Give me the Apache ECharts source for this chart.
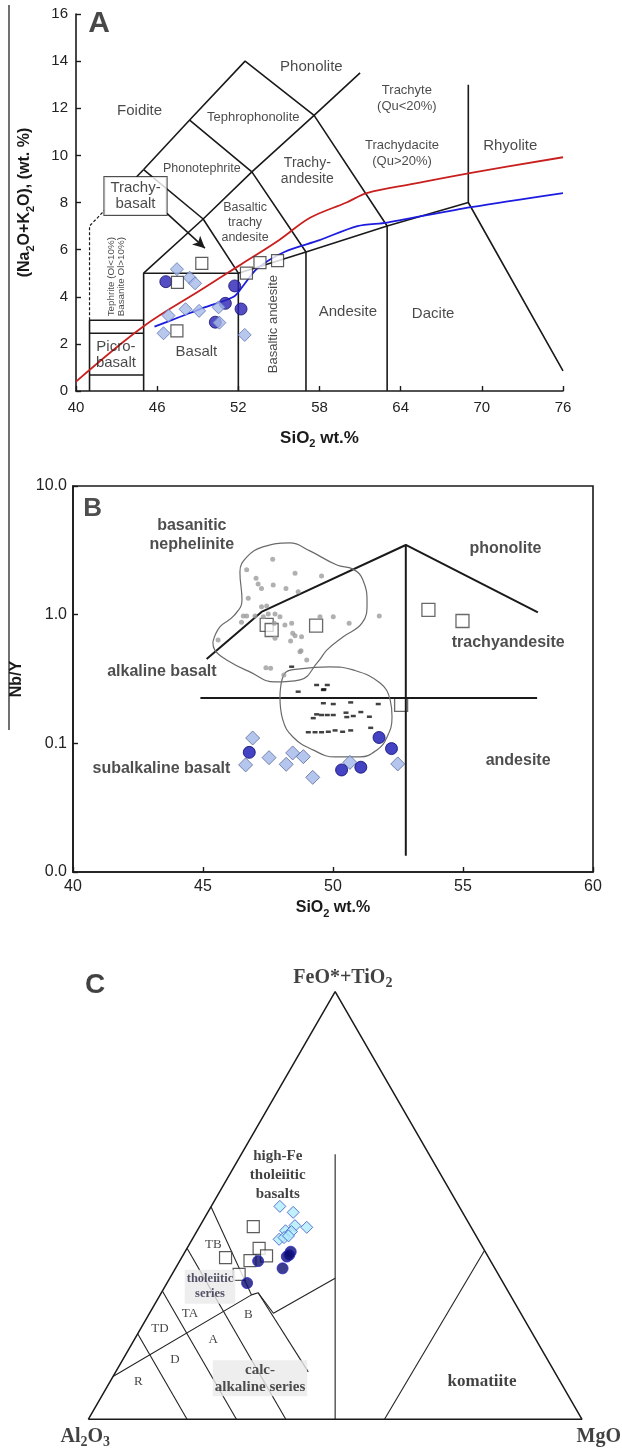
<!DOCTYPE html>
<html>
<head>
<meta charset="utf-8">
<script src="https://cdn.jsdelivr.net/npm/echarts@6/dist/echarts.min.js"></script>
<style>
  html, body { margin: 0; padding: 0; background: #fff; }
  #main { width: 622px; height: 1453px; }
</style>
</head>
<body>
<div id="main"></div>
<script>
// ---------- panel A : TAS diagram (SiO2 vs Na2O+K2O) ----------
const tasCircles = [[46.64, 4.64], [51.73, 4.46], [51.04, 3.72], [52.2, 3.48], [50.3, 2.92]];
const tasDiamonds = [[47.46, 5.17], [48.4, 4.81], [48.8, 4.57], [46.84, 3.2], [48.1, 3.47], [49.1, 3.4],
  [50.54, 3.55], [50.6, 2.9], [46.47, 2.45], [52.47, 2.38]];
const tasSquares = [[49.3, 5.42], [47.5, 4.61], [47.46, 2.55], [52.6, 5.0], [53.6, 5.45], [54.9, 5.53]];
const tasRed = [[40, 0.4], [45, 2.75], [49.4, 4.35], [52, 5.3], [55, 6.4], [57.3, 7.35], [60, 8.0],
  [61.5, 8.4], [65, 8.8], [69, 9.24], [76, 9.92]];
const tasBlue = [[45.8, 2.73], [47.7, 3.15], [49.5, 3.55], [51.65, 4.0], [52.4, 4.5], [53.4, 5.2],
  [55.4, 5.9], [58, 6.4], [60.8, 7.0], [63, 7.15], [69.2, 7.8], [76, 8.4]];
const tasBounds = [
  [[41, 0], [41, 3], [45, 3]],
  [[41, 2.45], [45, 2.45]],
  [[41, 0.68], [45, 0.68]],
  [[45, 0], [45, 5], [52, 5], [52, 0]],
  [[52, 5], [57, 5.9], [57, 0]],
  [[57, 5.9], [63, 7], [63, 0]],
  [[63, 7], [69, 8], [76, 0.85]],
  [[69, 8], [69, 13]],
  [[45, 5], [49.4, 7.3], [52, 5]],
  [[49.4, 7.3], [53, 9.3], [57, 5.9]],
  [[53, 9.3], [57.6, 11.7], [63, 7]],
  [[45, 9.4], [49.4, 7.3]],
  [[45, 9.4], [48.4, 11.5], [53, 9.3]],
  [[48.4, 11.5], [52.5, 14], [57.6, 11.7], [61, 13.5]],
  [[44.47, 9.08], [45, 9.4]]
];
const tasDashed = [[41, 3], [41, 7], [42.1, 7.66]];
const tasArrow = [[46.72, 7.54], [49.53, 6.06]];
const tasXTicks = [40, 76, 6];
const tasYTicks = [0, 16, 2];
const tasLabels = [
  [41.7, 15.58, 'A'],
  [44.7, 11.9, 'Foidite'],
  [53.1, 11.6, 'Tephrophonolite'],
  [57.4, 13.77, 'Phonolite'],
  [49.3, 9.42, 'Phonotephrite'],
  [57.1, 9.34, 'Trachy-\nandesite'],
  [64.46, 12.42, 'Trachyte\n(Qu<20%)'],
  [64.1, 10.1, 'Trachydacite\n(Qu>20%)'],
  [72.1, 10.4, 'Rhyolite'],
  [44.4, 8.28, 'Trachy-\nbasalt'],
  [52.5, 7.17, 'Basaltic\ntrachy\nandesite'],
  [42.95, 4.85, 'Tephrite (Ol<10%)\nBasanite Ol>10%)'],
  [42.95, 1.55, 'Picro-\nbasalt'],
  [48.9, 1.66, 'Basalt'],
  [54.6, 2.84, 'Basaltic andesite'],
  [60.1, 3.36, 'Andesite'],
  [66.4, 3.27, 'Dacite']
];

// ---------- panel B : SiO2 vs Nb/Y ----------
const nbCircles = [[46.78, 0.0851], [50.33, 0.0621], [51.07, 0.0652], [51.77, 0.111], [52.25, 0.091]];
const nbDiamonds = [[46.91, 0.110], [46.64, 0.068], [47.54, 0.0774], [48.2, 0.0687], [48.45, 0.0842],
  [48.86, 0.0788], [49.22, 0.0544], [50.65, 0.0711], [52.49, 0.0692]];
const nbSquares = [[47.45, 0.832], [47.64, 0.760], [49.35, 0.821], [53.67, 1.09], [54.98, 0.893], [52.62, 0.199]];
const nbGrey = [[47.68, 2.70], [46.68, 2.23], [47.04, 1.92], [47.12, 1.73], [47.25, 1.60], [47.70, 1.70],
  [48.19, 1.60], [48.54, 2.10], [48.66, 1.51], [46.74, 1.34], [47.25, 1.15], [47.45, 1.17], [47.00, 0.977],
  [46.68, 0.977], [46.55, 0.977], [47.32, 0.965], [47.51, 1.01], [47.77, 1.01], [47.96, 0.965], [47.74, 0.857],
  [48.15, 0.832], [48.41, 0.857], [46.48, 0.873], [48.45, 0.717], [48.54, 0.687], [47.77, 0.656], [48.37, 0.625],
  [48.77, 0.525], [45.58, 0.635], [48.99, 0.445], [47.42, 0.387], [47.60, 0.383], [48.11, 0.340], [49.56, 2.00],
  [49.50, 0.965], [50.01, 0.965], [50.62, 0.857], [51.78, 0.977], [48.79, 0.675], [48.73, 0.516]];
const nbBlack = [[48.66, 0.252], [49.37, 0.284], [49.65, 0.263], [49.63, 0.205], [50.01, 0.202], [49.37, 0.168],
  [49.56, 0.166], [49.78, 0.166], [50.01, 0.166], [49.24, 0.157], [49.05, 0.122], [49.31, 0.122], [49.56, 0.122],
  [49.82, 0.123], [50.08, 0.126], [48.41, 0.394], [49.78, 0.284], [49.63, 0.260], [50.68, 0.208], [51.74, 0.202],
  [50.50, 0.173], [50.53, 0.160], [50.78, 0.163], [51.07, 0.175], [51.40, 0.161], [50.37, 0.123], [50.68, 0.126],
  [51.45, 0.132]];
const nbUpperField = [[45.38, 0.614], [45.65, 0.802], [46.18, 0.977], [46.50, 1.30], [46.42, 2.15], [46.69, 2.81],
  [47.30, 3.36], [48.34, 3.61], [49.11, 3.13], [50.15, 2.43], [50.77, 2.26], [51.15, 1.86], [51.31, 1.23],
  [51.12, 0.862], [50.38, 0.671], [49.77, 0.532], [49.42, 0.429], [48.73, 0.311], [47.77, 0.300], [46.80, 0.359],
  [45.91, 0.445], [45.45, 0.532], [45.38, 0.614]];
const nbLowerField = [[47.96, 0.229], [48.15, 0.352], [48.73, 0.379], [49.88, 0.393], [50.77, 0.372], [51.81, 0.294],
  [52.20, 0.217], [52.27, 0.160], [52.08, 0.112], [51.69, 0.0889], [51.04, 0.0784], [50.08, 0.0784], [49.23, 0.0889],
  [48.46, 0.112], [48.07, 0.152], [47.96, 0.229]];
const nbBounds = [
  [[45.14, 0.453], [47.25, 1.05], [52.8, 3.48], [57.88, 1.04]],
  [[52.8, 3.48], [52.8, 0.0134]],
  [[44.9, 0.225], [57.85, 0.225]]
];
const nbXTicks = [40, 60, 5];
const nbYRange = [0.01, 10];
const nbLabels = [
  [40.76, 6.62, 'B'],
  [44.57, 4.16, 'basanitic\nnephelinite'],
  [43.42, 0.359, 'alkaline basalt'],
  [56.63, 3.24, 'phonolite'],
  [56.74, 0.603, 'trachyandesite'],
  [43.40, 0.0633, 'subalkaline basalt'],
  [57.12, 0.0734, 'andesite']
];

// ---------- panel C : Jensen cation ternary [Al2O3, FeO*+TiO2, MgO] ----------
const jCircles = [[39.4, 39.2, 21.4], [40.8, 38.1, 21.2], [40.1, 38.5, 21.5], [47.1, 37.0, 15.9],
  [43.0, 35.3, 21.7], [51.8, 31.8, 16.2]];
const jDiamonds = [[36.3, 49.8, 13.9], [34.3, 48.4, 17.3], [35.5, 45.3, 19.2], [33.3, 44.9, 21.8],
  [38.0, 44.1, 17.9], [36.9, 43.9, 19.2], [40.3, 42.1, 17.6], [39.1, 42.5, 18.4], [38.0, 42.9, 19.1]];
const jSquares = [[44.1, 45.1, 10.9], [45.4, 40.0, 14.6], [44.8, 38.2, 17.0], [48.7, 37.1, 14.2],
  [53.3, 37.8, 8.9], [52.5, 33.9, 13.6]];
const jFrame = [[100, 0, 0], [0, 100, 0], [0, 0, 100], [100, 0, 0]];
const jBounds = [
  [[50, 0, 50], [19, 62, 19]],
  [[40, 0, 60], [0, 39.5, 60.5]],
  [[50.3, 49.7, 0], [52.4, 29.1, 18.5]],
  [[90, 10, 0], [52.4, 29.1, 18.5], [50.8, 29.6, 19.6], [50.1, 24.8, 25.1], [33.5, 33, 33.5]],
  [[50.8, 29.6, 19.6], [49.9, 11.1, 39.0]],
  [[60, 40, 0], [60, 0, 40]],
  [[70, 30, 0], [70, 0, 30]],
  [[80, 20, 0], [80, 0, 20]]
];
// label anchors in the triangle's own x/y frame (base = 0..1)
const jLabels = [
  [0.0136, 0.880, 'C'],
  [0.5156, 0.894, 'FeO*+TiO{s|2}'],
  [-0.006, -0.036, 'Al{s|2}O{s|3}'],
  [1.034, -0.036, 'MgO'],
  [0.3838, 0.4949, 'high-Fe\ntholeiitic\nbasalts'],
  [0.2532, 0.353, 'TB'],
  [0.2465, 0.2686, 'tholeiitic\nseries'],
  [0.206, 0.2147, 'TA'],
  [0.1452, 0.1843, 'TD'],
  [0.3241, 0.2113, 'B'],
  [0.2532, 0.1606, 'A'],
  [0.1756, 0.1201, 'D'],
  [0.1013, 0.0762, 'R'],
  [0.3478, 0.083, 'calc-\nalkaline series'],
  [0.7975, 0.0762, 'komatiite']
];

const INK = '#1a1a1a';
const SANS = '"Liberation Sans", Arial, sans-serif';
const SERIF = '"Liberation Serif", "Times New Roman", serif';
const H = Math.sqrt(3) / 2;

function tern(p) {
  const s = p[0] + p[1] + p[2];
  const f = p[1] / s, m = p[2] / s;
  return [m + f / 2, f * H];
}

function lineSeries(gi, pts, style, extra) {
  return Object.assign({
    type: 'line', xAxisIndex: gi, yAxisIndex: gi, data: pts, symbol: 'none', showSymbol: false,
    silent: true, animation: false, z: 2, lineStyle: style
  }, extra || {});
}

function pointSeries(gi, pts, symbol, size, itemStyle, z) {
  return {
    type: 'scatter', xAxisIndex: gi, yAxisIndex: gi, data: pts, symbol: symbol, symbolSize: size,
    itemStyle: itemStyle, silent: true, animation: false, z: z || 4
  };
}

function labelSeries(gi, list, base, styles) {
  return {
    type: 'scatter', xAxisIndex: gi, yAxisIndex: gi, symbolSize: 0, silent: true, animation: false,
    clip: false, z: 6,
    data: list.map(l => ({
      value: [l[0], l[1]],
      label: Object.assign({ show: true, position: 'inside', formatter: l[2] }, base, styles[l[2]] || {})
    }))
  };
}

const sub = { fontSize: 11, fontWeight: 'bold', verticalAlign: 'bottom', lineHeight: 12 };
const blackLine = { color: INK, width: 1.6 };

const series = [];

// ---- A
tasBounds.forEach((b, i) => {
  const extra = i === 0 ? {
    markLine: {
      silent: true, animation: false, symbol: ['none', 'arrow'], symbolSize: [9, 12],
      lineStyle: { color: INK, width: 1.6, type: 'solid' }, label: { show: false },
      data: [[{ coord: tasArrow[0] }, { coord: tasArrow[1] }]]
    }
  } : {};
  series.push(lineSeries(0, b, blackLine, extra));
});
series.push(lineSeries(0, tasDashed, { color: INK, width: 1.2, type: [3, 2] }));
series.push(lineSeries(0, tasRed, { color: '#c8201e', width: 1.8 }, { smooth: 0.35 }));
series.push(lineSeries(0, tasBlue, { color: '#1c1ce0', width: 1.8 }, { smooth: 0.3 }));
series.push(pointSeries(0, tasCircles, 'circle', 12, { color: '#2a20b4', borderColor: '#12106e', borderWidth: 1 }));
series.push(pointSeries(0, tasDiamonds, 'diamond', 13, { color: '#a6bae9', borderColor: '#5f76b6', borderWidth: 1 }));
series.push(pointSeries(0, tasSquares, 'rect', 12, { color: '#fff', borderColor: '#333', borderWidth: 1.2 }));
series.push(labelSeries(0, tasLabels, { fontFamily: SANS, fontSize: 15, color: INK, lineHeight: 16 }, {
  'A': { fontSize: 30, fontWeight: 'bold' },
  'Tephrophonolite': { fontSize: 13 },
  'Phonotephrite': { fontSize: 12.5 },
  'Trachy-\nandesite': { fontSize: 14 },
  'Trachyte\n(Qu<20%)': { fontSize: 13 },
  'Trachydacite\n(Qu>20%)': { fontSize: 13 },
  'Basaltic\ntrachy\nandesite': { fontSize: 12.5, lineHeight: 15 },
  'Tephrite (Ol<10%)\nBasanite Ol>10%)': { fontSize: 9.8, lineHeight: 10, rotate: 90 },
  'Basaltic andesite': { fontSize: 13, rotate: 90 },
  'Trachy-\nbasalt': { backgroundColor: '#fff', borderColor: '#222', borderWidth: 1, padding: [3, 6], lineHeight: 16 }
}));

// ---- B
nbBounds.forEach(b => series.push(lineSeries(1, b, { color: INK, width: 2 })));
series.push(lineSeries(1, nbUpperField, { color: '#6a6a6a', width: 1.2 }, { smooth: 0.45 }));
series.push(lineSeries(1, nbLowerField, { color: '#6a6a6a', width: 1.2 }, { smooth: 0.45 }));
series.push(pointSeries(1, nbGrey, 'circle', 5, { color: '#9c9c9c' }, 3));
series.push(pointSeries(1, nbBlack, 'rect', [5, 2.5], { color: '#111' }, 3));
series.push(pointSeries(1, nbSquares, 'rect', 13, { color: 'rgba(255,255,255,0.9)', borderColor: '#444', borderWidth: 1.3 }, 1));
series.push(pointSeries(1, nbDiamonds, 'diamond', 14, { color: '#a3b8ea', borderColor: '#5a6a9a', borderWidth: 1 }));
series.push(pointSeries(1, nbCircles, 'circle', 12, { color: '#1414b4', borderColor: '#0a0a70', borderWidth: 1 }));
series.push(labelSeries(1, nbLabels, { fontFamily: SANS, fontSize: 16, fontWeight: 'bold', color: '#222', lineHeight: 19 }, {
  'B': { fontSize: 26, fontWeight: 'bold' }
}));

// ---- C
series.push(lineSeries(2, jFrame.map(tern), { color: INK, width: 1.5 }));
jBounds.forEach(b => series.push(lineSeries(2, b.map(tern), { color: '#222', width: 1.1 })));
series.push(pointSeries(2, jSquares.map(tern), 'rect', 12, { color: '#fff', borderColor: '#333', borderWidth: 1.2 }));
series.push(pointSeries(2, jDiamonds.map(tern), 'diamond', 12, { color: '#b2ecfc', borderColor: '#3656c4', borderWidth: 1 }));
series.push(pointSeries(2, jCircles.map(tern), 'circle', 11, { color: '#0c0c72', borderColor: '#2626c8', borderWidth: 1 }));
series.push(labelSeries(2, jLabels, { fontFamily: SERIF, fontSize: 13, color: '#111' }, {
  'C': { fontFamily: SANS, fontSize: 28, fontWeight: 'bold' },
  'FeO*+TiO{s|2}': { fontSize: 20, fontWeight: 'bold', lineHeight: 24, rich: { s: { fontSize: 14, fontWeight: 'bold', fontFamily: SERIF, verticalAlign: 'bottom', lineHeight: 14 } } },
  'Al{s|2}O{s|3}': { fontSize: 20, fontWeight: 'bold', lineHeight: 24, rich: { s: { fontSize: 14, fontWeight: 'bold', fontFamily: SERIF, verticalAlign: 'bottom', lineHeight: 14 } } },
  'MgO': { fontSize: 20, fontWeight: 'bold' },
  'high-Fe\ntholeiitic\nbasalts': { fontSize: 15, fontWeight: 'bold', lineHeight: 19 },
  'tholeiitic\nseries': { fontSize: 12.5, fontWeight: 'bold', lineHeight: 15, color: '#2a2a44', backgroundColor: '#eaeaea', padding: [2, 2] },
  'calc-\nalkaline series': { fontSize: 15, fontWeight: 'bold', lineHeight: 17, color: '#222', backgroundColor: '#eaeaea', padding: [1, 2] },
  'komatiite': { fontSize: 17, fontWeight: 'bold' }
}));

const axisBase = {
  axisLine: { show: true, lineStyle: { color: INK, width: 1.6 } },
  axisTick: { show: true, inside: true, length: 5, lineStyle: { color: INK, width: 1.4 } },
  splitLine: { show: false },
  nameLocation: 'middle'
};

const option = {
  backgroundColor: '#fff',
  animation: false,
  graphic: [{ type: 'line', shape: { x1: 9, y1: 5, x2: 9, y2: 730 }, style: { stroke: '#111', lineWidth: 1.2 }, silent: true }],
  grid: [
    { left: 76, top: 14, width: 487, height: 377 },
    { left: 73, top: 486, width: 520, height: 386, show: true, borderColor: INK, borderWidth: 1.6 },
    { left: 88.3, top: 1419.3 - 493.7 * H, width: 493.7, height: 493.7 * H }
  ],
  xAxis: [
    Object.assign({}, axisBase, {
      gridIndex: 0, type: 'value', min: tasXTicks[0], max: tasXTicks[1], interval: tasXTicks[2],
      axisLabel: { fontSize: 15, color: '#222', fontFamily: SANS, margin: 9 },
      name: 'SiO{s|2} wt.%', nameGap: 36,
      nameTextStyle: { fontFamily: SANS, fontSize: 17, fontWeight: 'bold', color: INK, lineHeight: 22, rich: { s: sub } }
    }),
    Object.assign({}, axisBase, {
      gridIndex: 1, type: 'value', min: nbXTicks[0], max: nbXTicks[1], interval: nbXTicks[2],
      axisLabel: { fontSize: 16, color: '#222', fontFamily: SANS, margin: 7 },
      name: 'SiO{s|2} wt.%', nameGap: 25,
      nameTextStyle: { fontFamily: SANS, fontSize: 16, fontWeight: 'bold', color: INK, lineHeight: 22, rich: { s: sub } }
    }),
    { gridIndex: 2, type: 'value', min: 0, max: 1, show: false }
  ],
  yAxis: [
    Object.assign({}, axisBase, {
      gridIndex: 0, type: 'value', min: tasYTicks[0], max: tasYTicks[1], interval: tasYTicks[2],
      axisLabel: { fontSize: 15, color: '#222', fontFamily: SANS, margin: 8 },
      name: '(Na{s|2}O+K{s|2}O), (wt. %)', nameGap: 40,
      nameTextStyle: { fontFamily: SANS, fontSize: 16, fontWeight: 'bold', color: INK, lineHeight: 22, rich: { s: sub } }
    }),
    Object.assign({}, axisBase, {
      gridIndex: 1, type: 'log', logBase: 10, min: nbYRange[0], max: nbYRange[1],
      minorTick: { show: false },
      axisLabel: { fontSize: 16, color: '#222', fontFamily: SANS, margin: 6, formatter: v => Number(v).toFixed(1) },
      name: 'Nb/Y', nameGap: 46,
      nameTextStyle: { fontFamily: SANS, fontSize: 16, fontWeight: 'bold', color: INK }
    }),
    { gridIndex: 2, type: 'value', min: 0, max: H, show: false }
  ],
  series: series
};

const chart = echarts.init(document.getElementById('main'));
chart.setOption(option);
</script>
</body>
</html>
